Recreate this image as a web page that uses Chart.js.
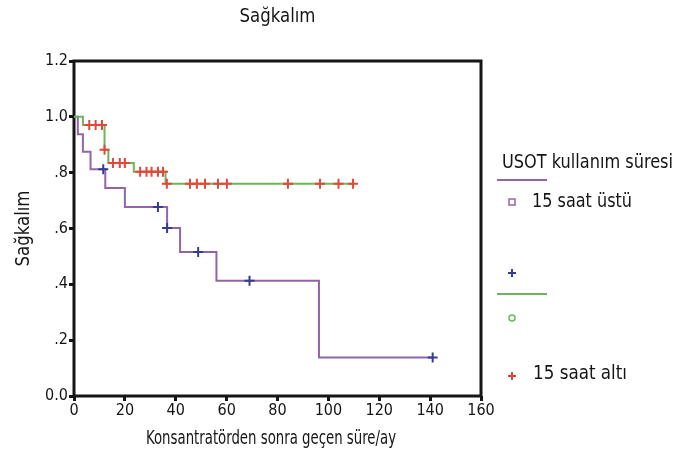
<!DOCTYPE html>
<html><head><meta charset="utf-8">
<script src="https://cdn.jsdelivr.net/npm/chart.js@4/dist/chart.umd.min.js"></script>
<style>html,body{margin:0;padding:0;background:#fff;}#wrap{width:687px;height:463px;position:relative;}</style>
</head><body><div id="wrap"><canvas id="c" width="687" height="463"></canvas></div>
<script>
// ---- texts ----
const chartTitle = 'Sağkalım';
const xAxisTitle = 'Konsantratörden sonra geçen süre/ay';
const yAxisTitle = 'Sağkalım';
const legendTitle = 'USOT kullanım süresi';
const groupNames = ['15 saat üstü', '15 saat altı'];

// ---- ticks ----
const xTicks = [0, 20, 40, 60, 80, 100, 120, 140, 160];
const yTicks = [0, 0.2, 0.4, 0.6, 0.8, 1.0, 1.2];

// ---- 15 saat üstü (purple curve, blue censor marks) ----
const upperTimes = [0, 1.5, 3.5, 6.5, 12.3, 20, 36.6, 41.7, 56, 96.3, 141];
const upperSurv  = [1, 0.9375, 0.875, 0.8125, 0.745, 0.677, 0.602, 0.516, 0.413, 0.138, 0.138];
const upperCensorTimes = [11.5, 33, 36.6, 48.8, 69, 141];
const upperCensorSurv  = [0.8125, 0.677, 0.602, 0.516, 0.413, 0.138];

// ---- 15 saat altı (green curve, red censor marks) ----
const lowerTimes = [0, 3.5, 12, 13.5, 23.5, 36, 110];
const lowerSurv  = [1, 0.971, 0.882, 0.835, 0.803, 0.76, 0.76];
const lowerCensorTimes = [6, 8.5, 11, 12, 15.3, 18, 20, 26, 28.5, 30.5, 33, 35, 36.5, 45.6, 48.3, 51.5, 56.6, 60.1, 84.1, 96.7, 104, 109.7];
const lowerCensorSurv  = [0.971, 0.971, 0.971, 0.882, 0.835, 0.835, 0.835, 0.803, 0.803, 0.803, 0.803, 0.803, 0.76, 0.76, 0.76, 0.76, 0.76, 0.76, 0.76, 0.76, 0.76, 0.76];

const FONT = '"Liberation Sans Narrow", "Arial Narrow", "DejaVu Sans Condensed", sans-serif';
const PURPLE = '#9464a8';
const BLUE = '#363a96';
const GREEN = '#6fb557';
const RED = '#e2473a';
const INK = '#151515';

const pts = (xs, ys) => xs.map((x, i) => ({x: x, y: ys[i]}));

function cross(ctx, x, y, r, color) {
  ctx.save(); ctx.strokeStyle = color; ctx.lineWidth = 2;
  ctx.beginPath(); ctx.moveTo(x - r, y); ctx.lineTo(x + r, y); ctx.moveTo(x, y - r); ctx.lineTo(x, y + r); ctx.stroke();
  ctx.restore();
}

const deco = {
  id: 'deco',
  beforeDatasetsDraw(chart) {
    const {ctx, chartArea: a} = chart;
    ctx.save();
    ctx.strokeStyle = INK; ctx.lineWidth = 3;
    ctx.strokeRect(a.left, a.top, a.right - a.left, a.bottom - a.top);
    ctx.restore();
  },
  afterDraw(chart) {
    const {ctx, chartArea: a} = chart;
    ctx.save();
    ctx.fillStyle = INK;
    ctx.textBaseline = 'middle';
    ctx.textAlign = 'center';
    ctx.font = '20px ' + FONT;
    ctx.fillText(chartTitle, (a.left + a.right) / 2, 17, 76);
    ctx.fillText(xAxisTitle, 271, 439, 250);
    ctx.save();
    ctx.translate(24, (a.top + a.bottom) / 2);
    ctx.rotate(-Math.PI / 2);
    ctx.fillText(yAxisTitle, 0, 0, 76);
    ctx.restore();
    // legend
    ctx.textAlign = 'left';
    ctx.fillText(legendTitle, 502, 163, 171);
    ctx.fillText(groupNames[0], 532, 202, 100);
    ctx.fillText(groupNames[1], 533, 374, 94);
    ctx.lineWidth = 2;
    ctx.strokeStyle = PURPLE;
    ctx.beginPath(); ctx.moveTo(497, 180); ctx.lineTo(547, 180); ctx.stroke();
    ctx.lineWidth = 1.5;
    ctx.strokeRect(509, 199, 6, 6);
    cross(ctx, 512, 273, 4, BLUE);
    ctx.lineWidth = 2;
    ctx.strokeStyle = GREEN;
    ctx.beginPath(); ctx.moveTo(497, 294); ctx.lineTo(547, 294); ctx.stroke();
    ctx.lineWidth = 1.5;
    ctx.beginPath(); ctx.arc(512, 318, 3, 0, Math.PI * 2); ctx.stroke();
    cross(ctx, 512, 376, 4, RED);
    ctx.restore();
  }
};

Chart.defaults.font.family = FONT;
Chart.defaults.color = INK;

new Chart(document.getElementById('c'), {
  type: 'scatter',
  data: {
    datasets: [
      {data: pts(upperCensorTimes, upperCensorSurv), pointStyle: 'cross', pointRadius: 5, borderColor: BLUE, borderWidth: 2, showLine: false, order: 0, clip: false},
      {data: pts(lowerCensorTimes, lowerCensorSurv), pointStyle: 'cross', pointRadius: 5, borderColor: RED, borderWidth: 2, showLine: false, order: 0, clip: false},
      {data: pts(upperTimes, upperSurv), showLine: true, stepped: 'before', pointRadius: 0, borderColor: PURPLE, borderWidth: 2, fill: false, order: 2},
      {data: pts(lowerTimes, lowerSurv), showLine: true, stepped: 'before', pointRadius: 0, borderColor: GREEN, borderWidth: 2, fill: false, order: 1}
    ]
  },
  options: {
    responsive: false, animation: false, devicePixelRatio: 1,
    layout: {padding: {left: 0, top: 61, right: 206, bottom: 0}},
    plugins: {legend: {display: false}, tooltip: {enabled: false}, title: {display: false}},
    scales: {
      x: {
        type: 'linear', min: 0, max: 160,
        afterBuildTicks: s => { s.ticks = xTicks.map(v => ({value: v})); },
        afterFit: s => { s.height = 67; },
        grid: {drawOnChartArea: false, drawTicks: true, tickLength: 5, tickWidth: 3, tickColor: INK},
        border: {display: false},
        ticks: {font: {size: 16}, padding: 0, maxRotation: 0, color: INK}
      },
      y: {
        type: 'linear', min: 0, max: 1.2,
        afterBuildTicks: s => { s.ticks = yTicks.map(v => ({value: v})); },
        afterFit: s => { s.width = 74; },
        grid: {drawOnChartArea: false, drawTicks: true, tickLength: 5, tickWidth: 3, tickColor: INK},
        border: {display: false},
        ticks: {font: {size: 16}, padding: 1, color: INK,
          callback: v => { const s = Number(v).toFixed(1); return (v > 0 && v < 1) ? s.replace(/^0/, '') : s; }}
      }
    }
  },
  plugins: [deco]
});
</script></body></html>
